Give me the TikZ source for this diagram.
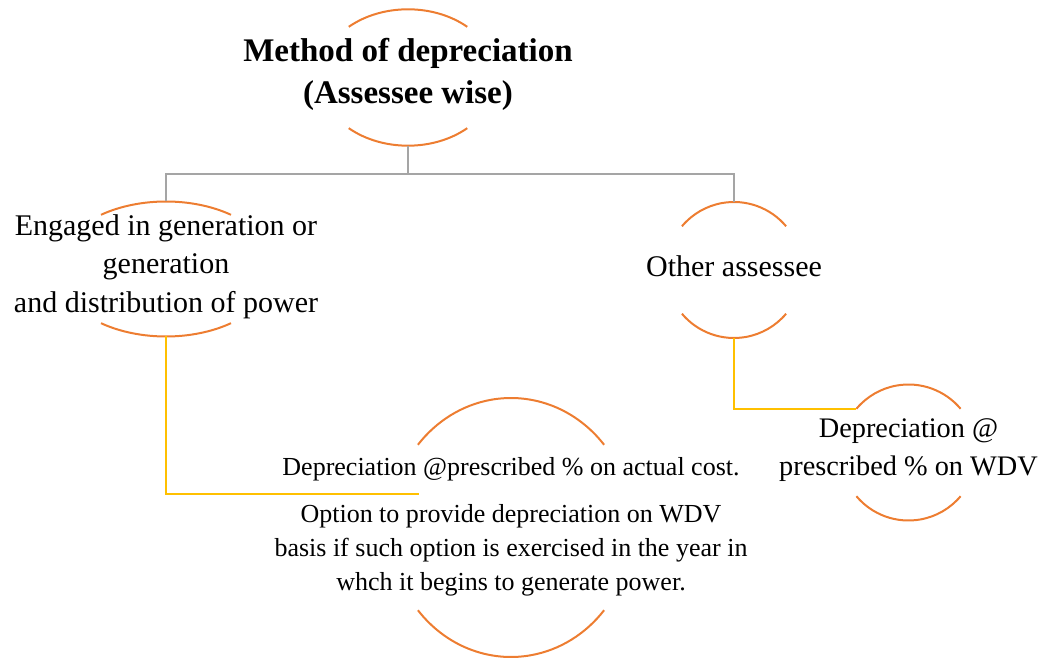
\documentclass[tikz,border=0pt]{standalone}
\usepackage{fontspec}
\setmainfont{Liberation Serif}
\definecolor{ringorange}{HTML}{ED7D31}
\definecolor{linkyellow}{HTML}{FFC000}
\definecolor{linkgray}{HTML}{A5A5A5}

\begin{document}
\begin{tikzpicture}[x=1pt, y=1pt,
    ring/.style={draw=ringorange, line width=2pt},
    treeline/.style={draw=linkgray, line width=2.5pt},
    yellowline/.style={draw=linkyellow, line width=2.5pt},
    txt/.style={inner sep=0pt, align=center, text=black}]
    \useasboundingbox (0,0) rectangle (1043,659);

    % 定义坐标
    \coordinate (TitleC) at (408,581.5);
    \coordinate (PowerC) at (166,390);
    \coordinate (OtherC) at (734,389);
    \coordinate (WdvC) at (908.5,206.5);
    \coordinate (CostC) at (511,131.5);
    \coordinate (TitleBottom) at (408,513.3);
    \coordinate (Branch) at (408,485);
    \coordinate (PowerTop) at (166,457.5);
    \coordinate (PowerBottom) at (166,322.5);
    \coordinate (OtherTop) at (734,457);
    \coordinate (OtherBottom) at (734,321);
    \coordinate (CostJoin) at (418.5,165); % 左侧连线终点
    \coordinate (WdvJoin) at (856.4,250.2); % 右侧连线终点

    % 绘制文字
    \node[txt, font=\fontsize{33}{42}\selectfont\bfseries] (Title) at (408,584.3)
        {Method of depreciation\\(Assessee wise)};
    \node[txt, font=\fontsize{30}{38.5}\selectfont] (Power) at (166,392.5)
        {Engaged in generation or\\generation\\and distribution of power};
    \node[txt, font=\fontsize{30}{36}\selectfont] (Other) at (734,393) {Other assessee};
    \node[txt, font=\fontsize{28.3}{38}\selectfont] (Wdv) at (908.5,208.6)
        {Depreciation @\\prescribed \% on WDV};
    \node[txt, font=\fontsize{26}{34}\selectfont] (Cost) at (511,132.6)
        {Depreciation @prescribed \% on actual cost.\\[13pt]
         Option to provide depreciation on WDV\\
         basis if such option is exercised in the year in\\
         whch it begins to generate power.};

    % 绘制圆弧
    \draw[ring] ([shift={(48:88.5pt and 68.2pt)}]TitleC) arc[start angle=48, end angle=132, x radius=88.5pt, y radius=68.2pt];
    \draw[ring] ([shift={(228:88.5pt and 68.2pt)}]TitleC) arc[start angle=228, end angle=312, x radius=88.5pt, y radius=68.2pt];
    \draw[ring] ([shift={(53.4:109pt and 67.5pt)}]PowerC) arc[start angle=53.4, end angle=126.6, x radius=109pt, y radius=67.5pt];
    \draw[ring] ([shift={(233.4:109pt and 67.5pt)}]PowerC) arc[start angle=233.4, end angle=306.6, x radius=109pt, y radius=67.5pt];
    \draw[ring] ([shift={(40:68pt)}]OtherC) arc[start angle=40, end angle=140, radius=68pt];
    \draw[ring] ([shift={(220:68pt)}]OtherC) arc[start angle=220, end angle=320, radius=68pt];
    \draw[ring] ([shift={(40:68pt)}]WdvC) arc[start angle=40, end angle=140, radius=68pt];
    \draw[ring] ([shift={(220:68pt)}]WdvC) arc[start angle=220, end angle=320, radius=68pt];
    \draw[ring] ([shift={(39.7:121pt and 129.5pt)}]CostC) arc[start angle=39.7, end angle=140.3, x radius=121pt, y radius=129.5pt];
    \draw[ring] ([shift={(219.7:121pt and 129.5pt)}]CostC) arc[start angle=219.7, end angle=320.3, x radius=121pt, y radius=129.5pt];

    % 绘制连线
    \draw[treeline] (TitleBottom) -- (Branch) -| (PowerTop);
    \draw[treeline] (Branch) -| (OtherTop);
    \draw[yellowline] (PowerBottom) |- (CostJoin);
    \draw[yellowline] (OtherBottom) |- (WdvJoin);

\end{tikzpicture}
\end{document}
